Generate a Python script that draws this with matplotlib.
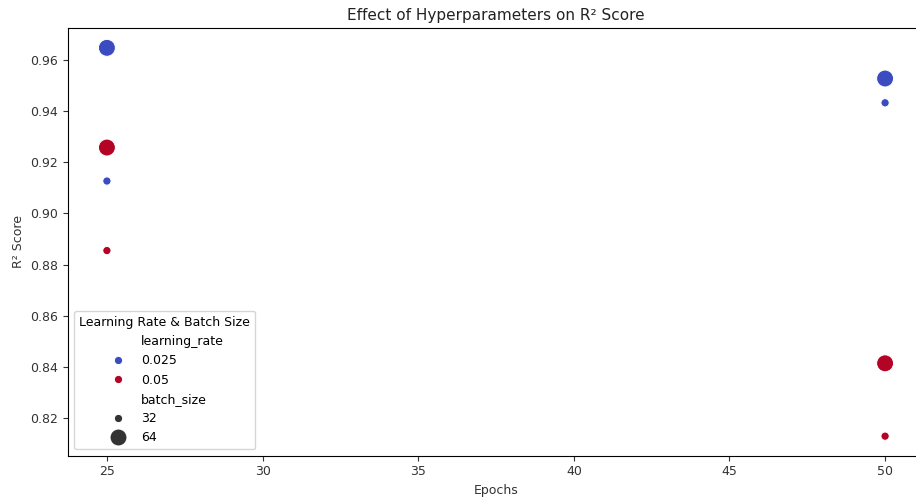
import matplotlib
matplotlib.use("Agg")
import matplotlib.pyplot as plt
from matplotlib.lines import Line2D
import numpy as np

epochs = [25, 25, 25, 25, 50, 50, 50, 50]
learning_rate = [0.025, 0.05, 0.025, 0.05, 0.025, 0.025, 0.05, 0.05]
batch_size = [64, 64, 32, 32, 64, 32, 64, 32]
r2_score = [0.9648, 0.9258, 0.9127, 0.8855, 0.9528, 0.9433, 0.8414, 0.8129]

lr_levels = [0.025, 0.05]
bs_levels = [32, 64]

cmap = plt.get_cmap("coolwarm")
lr_colors = {0.025: cmap(0.0), 0.05: cmap(1.0)}
bs_sizes = {32: 36, 64: 150}

fig = plt.figure(figsize=(9.16, 4.99), dpi=100)
ax = fig.add_axes([68 / 916, 1 - 455.6 / 499, (924 - 68) / 916, (455.6 - 28.4) / 499])

cols = [lr_colors[l] for l in learning_rate]
sizes = [bs_sizes[b] for b in batch_size]
ax.scatter(epochs, r2_score, c=cols, s=sizes, edgecolors="white", linewidths=0.75, zorder=3)

ax.set_xlim(23.75, 51.25)
ax.set_ylim(0.8053, 0.9724)
ax.set_xticks([25, 30, 35, 40, 45, 50])
ax.set_yticks([0.82, 0.84, 0.86, 0.88, 0.90, 0.92, 0.94, 0.96])
ax.set_yticklabels([f"{v:.2f}" for v in [0.82, 0.84, 0.86, 0.88, 0.90, 0.92, 0.94, 0.96]])
ax.tick_params(labelsize=9, colors="#333333")
ax.set_xlabel("Epochs", fontsize=9, color="#333333")
ax.set_ylabel("R² Score", fontsize=9, color="#333333")
ax.set_title("Effect of Hyperparameters on R² Score", fontsize=11, color="#222222")

handles = []
labels = []
blank = Line2D([], [], linestyle="none", marker="", color="none")
handles.append(blank); labels.append("learning_rate")
for l in lr_levels:
    handles.append(Line2D([], [], linestyle="none", marker="o", markersize=6,
                          markerfacecolor=lr_colors[l], markeredgecolor="white", markeredgewidth=0.75))
    labels.append(str(l))
handles.append(blank); labels.append("batch_size")
for b in bs_levels:
    handles.append(Line2D([], [], linestyle="none", marker="o", markersize=np.sqrt(bs_sizes[b]),
                          markerfacecolor="#333333", markeredgecolor="white", markeredgewidth=0.75))
    labels.append(str(b))
leg = ax.legend(handles, labels, title="Learning Rate & Batch Size", loc="lower left",
                fontsize=9, title_fontsize=9)

fig.savefig("out.png", dpi=100)
